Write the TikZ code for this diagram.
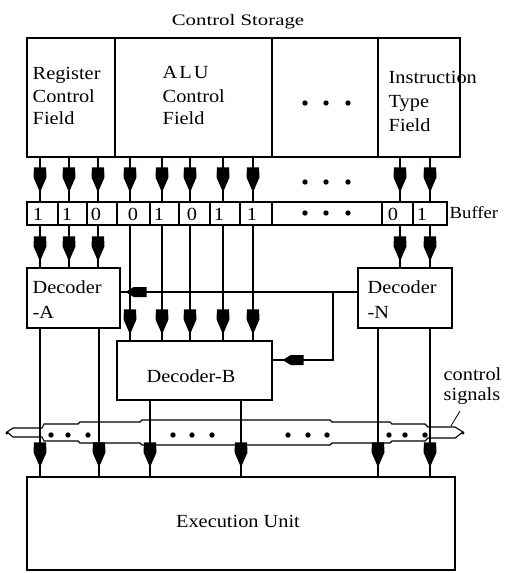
\documentclass[tikz,border=0pt]{standalone}
\usepackage{fontspec}
\setmainfont[FakeStretch=1.1]{Liberation Serif}
\newfontfamily\widefont[FakeStretch=1.3]{Liberation Serif}
\usetikzlibrary{decorations.markings,calc}
\tikzset{
  arrat/.style={postaction={decorate,decoration={markings,mark=at position #1 with {%
     \fill (0pt,0pt) -- (-15pt,6.5pt) -- (-25pt,6pt) -- (-25pt,-6pt) -- (-15pt,-6.5pt) -- cycle;}}}},
  arrsm/.style={postaction={decorate,decoration={markings,mark=at position #1 with {%
     \fill (0pt,0pt) -- (-8pt,5pt) -- (-21pt,5pt) -- (-21pt,-5pt) -- (-8pt,-5pt) -- cycle;}}}},
  boxn/.style={draw,rectangle,inner sep=0pt},
  txt/.style={inner sep=0pt,anchor=base west,font=\fontsize{18.5}{22}\selectfont},
  ctxt/.style={inner sep=0pt,anchor=base,font=\fontsize{18.5}{22}\selectfont},
}
\newcommand\bx[5]{\node[boxn,minimum width={(#4-#2)*1pt},minimum height={(#5-#3)*1pt}] (#1) at ({(#2+#4)/2},{(#3+#5)/2}) {};}
\begin{document}
\begin{tikzpicture}[x=1pt,y=-1pt,line width=1.4pt]
\useasboundingbox (0,0) rectangle (504,573);

% title
\node[inner sep=0pt,anchor=base,font=\widefont\fontsize{16}{18}\selectfont] (title) at (238,25) {Control Storage};

% control storage fields
\bx{f1}{27}{38}{115}{157}
\bx{f2}{115}{38}{272}{157}
\bx{f3}{272}{38}{378}{157}
\bx{f4}{378}{38}{460}{157}
\node[txt] (t1a) at (32,79) {Register};
\node[txt] (t1b) at (32,102) {Control};
\node[txt] (t1c) at (32,124) {Field};
\node[txt] (t2a) at (162,78) {A\kern2pt L\kern2pt U};
\node[txt] (t2b) at (162,102) {Control};
\node[txt] (t2c) at (162,124) {Field};
\node[txt] (t4a) at (388,83) {Instruction};
\node[txt] (t4b) at (388,107) {Type};
\node[txt] (t4c) at (388,131) {Field};
\foreach \x in {305,326,348} {\fill (\x,103) circle (2.7pt); \fill (\x,182) circle (2.7pt); \fill (\x,213) circle (2.7pt);}

% buffer cells
\bx{c1}{27}{202}{58}{225}
\bx{c2}{58}{202}{87}{225}
\bx{c3}{87}{202}{117}{225}
\bx{c4}{117}{202}{150}{225}
\bx{c5}{150}{202}{179}{225}
\bx{c6}{179}{202}{210}{225}
\bx{c7}{210}{202}{240}{225}
\bx{c8}{240}{202}{272}{225}
\bx{c9}{272}{202}{382}{225}
\bx{c10}{382}{202}{413}{225}
\bx{c11}{413}{202}{447}{225}
\foreach \x/\v [count=\i] in {38/1,67/1,96/0,133/0,159/1,192/0,219/1,252/1,393/0,422/1}
  \node[ctxt] (d\i) at (\x,220) {\v};
\node[inner sep=0pt,anchor=base west,font=\fontsize{17}{20}\selectfont] (buflab) at (449,218) {Buffer};

% decoders and execution unit
\bx{decA}{27}{268}{120}{328}
\bx{decN}{358}{268}{452}{328}
\bx{decB}{117}{341}{272}{400}
\bx{exe}{27}{477}{455}{570}
\node[txt] (dA1) at (32,293) {Decoder};
\node[txt] (dA2) at (32,318) {-A};
\node[txt] (dN1) at (367,293) {Decoder};
\node[txt] (dN2) at (367,318) {-N};
\node[ctxt] (dB) at (191,382) {Decoder-B};
\node[ctxt] (ex) at (238,527) {Execution Unit};

% column coordinates
\foreach \x [count=\i] in {40,69,98,130,162,190,223,253,400,430}
  \coordinate (k\i) at (\x,0);
\foreach \x [count=\i] in {40,99,150,241,378,430}
  \coordinate (b\i) at (\x,0);

% storage -> buffer
\foreach \k/\f/\c in {1/f1/c1,2/f1/c2,3/f1/c3,4/f2/c4,5/f2/c5,6/f2/c6,7/f2/c7,8/f2/c8,9/f4/c10,10/f4/c11}
  \draw[arrat=-9pt] (\f.south -| k\k) -- (\c.north -| k\k);

% buffer -> decoders
\foreach \k/\c/\d in {1/c1/decA,2/c2/decA,3/c3/decA,4/c4/decB,5/c5/decB,6/c6/decB,7/c7/decB,8/c8/decB,9/c10/decN,10/c11/decN}
  \draw[arrat=-6pt] (\c.south -| k\k) -- (\d.north -| k\k);

% decoder-N -> decoder-A and decoder-B
\coordinate (hy) at (0,292);
\coordinate (br) at (333,292);
\coordinate (by) at (0,360);
\draw[arrsm=-5pt] (decN.west |- hy) -- (decA.east |- hy);
\draw[arrsm=-10pt] (br) |- (decB.east |- by);

% control signal bus
\draw[line width=1.1pt] (7,432) -- (13,428) -- (42,428) -- (44,424) -- (78,424) -- (80,422) -- (140,422) -- (142,420)
  -- (330,420) -- (332,422) -- (390,422) -- (392,424) -- (425,424) -- (428,427) -- (455,427) -- (463,432)
  -- (455,438) -- (428,438) -- (425,441) -- (392,441) -- (390,443) -- (332,443) -- (330,445) -- (142,445)
  -- (140,443) -- (80,443) -- (78,441) -- (44,441) -- (42,437) -- (13,437) -- cycle;
\foreach \x in {51,68,88,173,192,212,288,308,327,389,405,425}
  \fill (\x,435) circle (2.7pt);
\fill (7,433) circle (1.6pt);
\fill (463,433) circle (1.6pt);

% decoders -> execution unit
\draw[arrat=-9pt] (decA.south -| b1) -- (exe.north -| b1);
\draw[arrat=-9pt] (decA.south -| b2) -- (exe.north -| b2);
\draw[arrat=-9pt] (decB.south -| b3) -- (exe.north -| b3);
\draw[arrat=-9pt] (decB.south -| b4) -- (exe.north -| b4);
\draw[arrat=-9pt] (decN.south -| b5) -- (exe.north -| b5);
\draw[arrat=-9pt] (decN.south -| b6) -- (exe.north -| b6);

% label
\node[txt] (cs1) at (443,380) {control};
\node[txt] (cs2) at (443,400) {signals};
\coordinate (ld1) at (460,411);
\coordinate (ld2) at (451,426);
\draw[line width=0.8pt] (ld1) -- (ld2);
\end{tikzpicture}
\end{document}
